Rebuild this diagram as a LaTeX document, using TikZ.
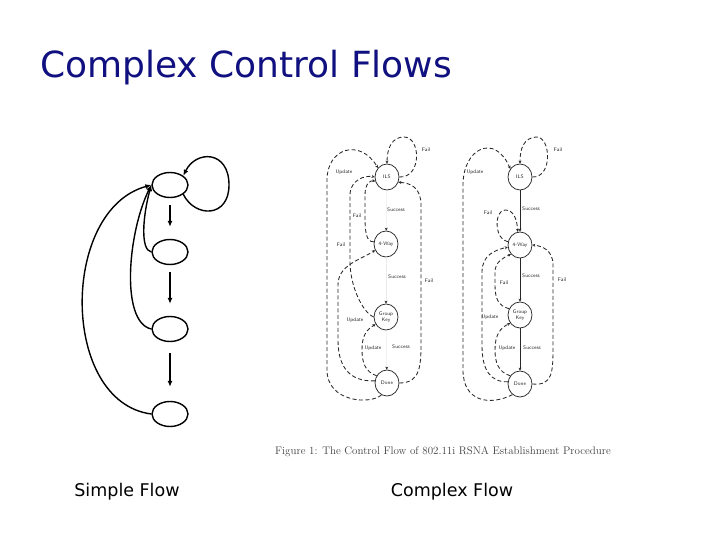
\documentclass[tikz,border=0pt]{standalone}
\usepackage{fontspec}
\usepackage{tikz}
\usetikzlibrary{shapes.geometric, arrows.meta}
\newfontfamily\slidefont{DejaVu Sans}
\definecolor{SlideNavy}{RGB}{16,16,128}
\definecolor{ScanGray}{RGB}{40,40,40}

\begin{document}
\begin{tikzpicture}[x=1pt, y=-1pt,
    sst/.style={ellipse, draw, line width=1.4pt, minimum width=36pt,
                minimum height=25pt, inner sep=0pt},
    sarr/.style={-{Latex[length=6pt,width=5pt]}, line width=1.4pt},
    cst/.style={ellipse, draw=ScanGray, line width=0.75pt, minimum width=24pt,
                minimum height=26pt, inner sep=0pt, align=center,
                font=\sffamily\fontsize{5.2}{5.6}\selectfont, text=ScanGray},
    carr/.style={-{Stealth[length=3pt,width=3pt]}, draw=ScanGray,
                 line width=0.85pt, dash pattern=on 4pt off 2.5pt},
    cok/.style={-{Stealth[length=3pt,width=3pt]}, draw=ScanGray,
                line width=0.7pt},
    cfaint/.style={-{Stealth[length=3pt,width=3pt,color=ScanGray]},
                   draw=black!8, line width=0.5pt},
    clab/.style={font=\sffamily\fontsize{5.2}{5.6}\selectfont, text=ScanGray,
                 inner sep=0.5pt}
  ]
  \useasboundingbox (0,0) rectangle (720,540);

  % Title
  \node[anchor=base west, inner sep=0pt, text=SlideNavy,
        font=\slidefont\fontsize{36}{40}\selectfont]
        (title) at (40,78) {Complex Control Flows};

  % Simple flow
  \node[sst] (s1) at (170,185) {};
  \node[sst] (s2) at (170,252) {};
  \node[sst] (s3) at (170,329) {};
  \node[sst] (s4) at (170,414) {};

  \draw[sarr, shorten <=7pt, shorten >=12pt] (s1) -- (s2);
  \draw[sarr, shorten <=7pt, shorten >=12pt] (s2) -- (s3);
  \draw[sarr, shorten <=11pt, shorten >=14pt] (s3) -- (s4);

  \draw[sarr] (s1.-35) .. controls (195,218) and (229,218) .. (229,185)
              .. controls (229,150) and (196,150) .. (s1.35);
  \draw[sarr] (s2.west) .. controls (140,250) and (143,215) .. (s1.west);
  \draw[sarr] (s3.west) .. controls (120,322) and (128,232) .. (s1.west);
  \draw[sarr] (s4.west) .. controls (60,402) and (60,210) .. (s1.west);

  % Complex flow, left figure
  \node[cst] (lils)  at (387,177) {ILS};
  \node[cst] (lfour) at (386,244) {4-Way};
  \node[cst] (lgk)   at (386,317) {Group\\Key};
  \node[cst] (ldone) at (387,383) {Done};

  \draw[cfaint] (lils)  -- (lfour);
  \draw[cfaint] (lfour) -- (lgk);
  \draw[cfaint] (lgk)   -- (ldone);
  \draw[carr] (lils.east) .. controls (422,178) and (421,137) .. (404,137)
              .. controls (392,137) and (387,148) .. (lils.north);
  \draw[carr] (ldone.east) .. controls (421,383) and (421,365) .. (421,340)
              -- (421,205) .. controls (421,188) and (411,183) .. (lils.-25);
  \draw[carr] (ldone.-115) .. controls (370,405) and (327,402) .. (327,370)
              -- (327,180) .. controls (327,148) and (360,138) .. (lils.135);
  \draw[carr] (lfour.170) .. controls (366,242) and (365,232) .. (365,215)
              -- (365,195) .. controls (365,184) and (370,180) .. (lils.200);
  \draw[carr] (lgk.west) .. controls (362,312) and (350,285) .. (350,262)
              -- (350,195) .. controls (350,180) and (365,175) .. (lils.180);
  \draw[carr] (ldone.170) .. controls (348,382) and (338,365) .. (338,340)
              -- (338,285) .. controls (338,265) and (360,260) .. (lfour.210);
  \draw[carr] (ldone.145) .. controls (365,372) and (362,362) .. (362,350)
              .. controls (362,336) and (366,330) .. (lgk.215);

  \node[clab] (lt1)  at (426,150) {Fail};
  \node[clab] (lt2)  at (344,172) {Update};
  \node[clab] (lt3)  at (396,210) {Success};
  \node[clab] (lt4)  at (357,216) {Fail};
  \node[clab] (lt5)  at (341,245) {Fail};
  \node[clab] (lt6)  at (397,277) {Success};
  \node[clab] (lt7)  at (429,281) {Fail};
  \node[clab] (lt8)  at (355,320) {Update};
  \node[clab] (lt9)  at (373,348) {Update};
  \node[clab] (lt10) at (401,347) {Success};

  % Complex flow, right figure
  \node[cst] (rils)  at (520,177) {ILS};
  \node[cst] (rfour) at (520,245) {4-Way};
  \node[cst] (rgk)   at (520,315) {Group\\Key};
  \node[cst] (rdone) at (520,384) {Done};

  \draw[cok] (rils) -- (rfour);
  \draw[cok] (rfour) -- (rgk);
  \draw[cok] (rgk) -- (rdone);
  \draw[carr] (rils.east) .. controls (553,178) and (551,136) .. (536,137)
              .. controls (524,138) and (520,148) .. (rils.north);
  \draw[carr] (rdone.-125) .. controls (490,406) and (463,402) .. (463,370)
              -- (463,185) .. controls (463,148) and (495,133) .. (rils.140);
  \draw[carr] (rfour.165) .. controls (494,240) and (494,210) .. (505,210)
              .. controls (513,210) and (517,218) .. (rfour.100);
  \draw[carr] (rdone.170) .. controls (490,382) and (482,370) .. (482,345)
              -- (482,272) .. controls (482,255) and (495,250) .. (rfour.190);
  \draw[carr] (rgk.150) .. controls (498,306) and (495,298) .. (495,285)
              -- (495,272) .. controls (495,262) and (503,258) .. (rfour.225);
  \draw[carr] (rdone.140) .. controls (498,372) and (495,362) .. (495,350)
              .. controls (495,335) and (500,328) .. (rgk.220);
  \draw[carr] (rdone.east) .. controls (553,386) and (553,372) .. (553,345)
              -- (553,265) .. controls (553,250) and (542,246) .. (rfour.east);

  \node[clab] (rt1)  at (558,150) {Fail};
  \node[clab] (rt2)  at (475,172) {Update};
  \node[clab] (rt3)  at (531,209) {Success};
  \node[clab] (rt4)  at (488,213) {Fail};
  \node[clab] (rt5)  at (504,283) {Fail};
  \node[clab] (rt6)  at (531,276) {Success};
  \node[clab] (rt7)  at (562,280) {Fail};
  \node[clab] (rt8)  at (490,317) {Update};
  \node[clab] (rt9)  at (507,348) {Update};
  \node[clab] (rt10) at (532,348) {Success};

  % Caption of the scanned figure
  \node[anchor=base, inner sep=0pt, text=black!75,
        font=\fontsize{11}{13}\selectfont]
        (cap) at (443,454)
        {Figure 1: The Control Flow of 802.11i RSNA Establishment Procedure};

  % Bottom labels
  \node[anchor=base, inner sep=0pt, font=\slidefont\fontsize{17.5}{20}\selectfont]
        (simple) at (127,496) {Simple Flow};
  \node[anchor=base, inner sep=0pt, font=\slidefont\fontsize{17.5}{20}\selectfont]
        (complex) at (452,496) {Complex Flow};
\end{tikzpicture}
\end{document}
